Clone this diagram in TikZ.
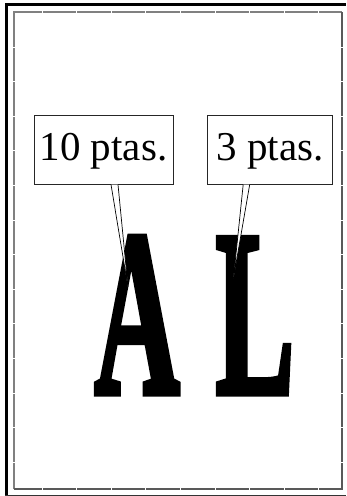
\documentclass[tikz,border=0pt]{standalone}
\usepackage{fontspec}
\usepackage{graphicx}
\setmainfont{Liberation Serif}
\newfontfamily\heavyfont[BoldFont={Liberation Serif Bold}, BoldFeatures={FakeBold=3}]{Liberation Serif}
\begin{document}
\begin{tikzpicture}[x=1pt,y=-1pt,
  pricebox/.style={draw=black!85, line width=1pt, fill=white, inner sep=0pt,
    font=\fontsize{41}{41}\selectfont, text height=27pt, text depth=6pt},
  tail/.style={draw=black, fill=white, line width=0.7pt, line join=miter},
  bigletter/.style={inner sep=0pt, anchor=base, font=\heavyfont\fontsize{236}{236}\selectfont\bfseries},
  tick/.style={draw=white, line width=0.8pt}]
\useasboundingbox (0,0) rectangle (346,496);
\fill[white] (0,0) rectangle (346,496);
% outer frame
\draw[line width=3pt, black] (6.5,496) -- (6.5,4.5) -- (346,4.5);
\draw[line width=1.2pt, black!80] (5,495.2) -- (346,495.2);
% inner frame
\draw[line width=1.8pt, black!50] (14,489) -- (14,12) -- (342,12);
\draw[line width=1.8pt, black!65] (342,12) -- (342,489) -- (14,489);
\foreach \k in {0,...,8} {
  \draw[tick] ({42+34.6*\k},10.8) -- ({42+34.6*\k},13.2);
  \draw[tick] ({42+34.6*\k},487.8) -- ({42+34.6*\k},490.2);
}
\foreach \k in {0,...,12} {
  \draw[tick] (12.8,{47+34.6*\k}) -- (15.2,{47+34.6*\k});
  \draw[tick] (340.8,{47+34.6*\k}) -- (343.2,{47+34.6*\k});
}
% letters
\node[bigletter] (A) at (137,393) {\scalebox{0.5}[1]{A}};
\node[bigletter] (L) at (255,393) {\scalebox{0.5}[1]{L}};
% boxes
\node[pricebox, minimum width=139pt, minimum height=69pt] (b1) at (103.5,149.5) {10 ptas.};
\node[pricebox, minimum width=125pt, minimum height=69pt] (b2) at (270.2,149.5) {3 ptas.};
% tails
\coordinate (t1a) at ([xshift=7.5pt]b1.south);
\coordinate (t1b) at ([xshift=14.5pt]b1.south);
\coordinate (tip1) at (128,287);
\coordinate (t2a) at ([xshift=-27pt]b2.south);
\coordinate (t2b) at ([xshift=-20.5pt]b2.south);
\coordinate (tip2) at (233.5,278);
\filldraw[tail] (t1a) -- (tip1) -- (t1b);
\filldraw[tail] (t2a) -- (tip2) -- (t2b);
\end{tikzpicture}
\end{document}
